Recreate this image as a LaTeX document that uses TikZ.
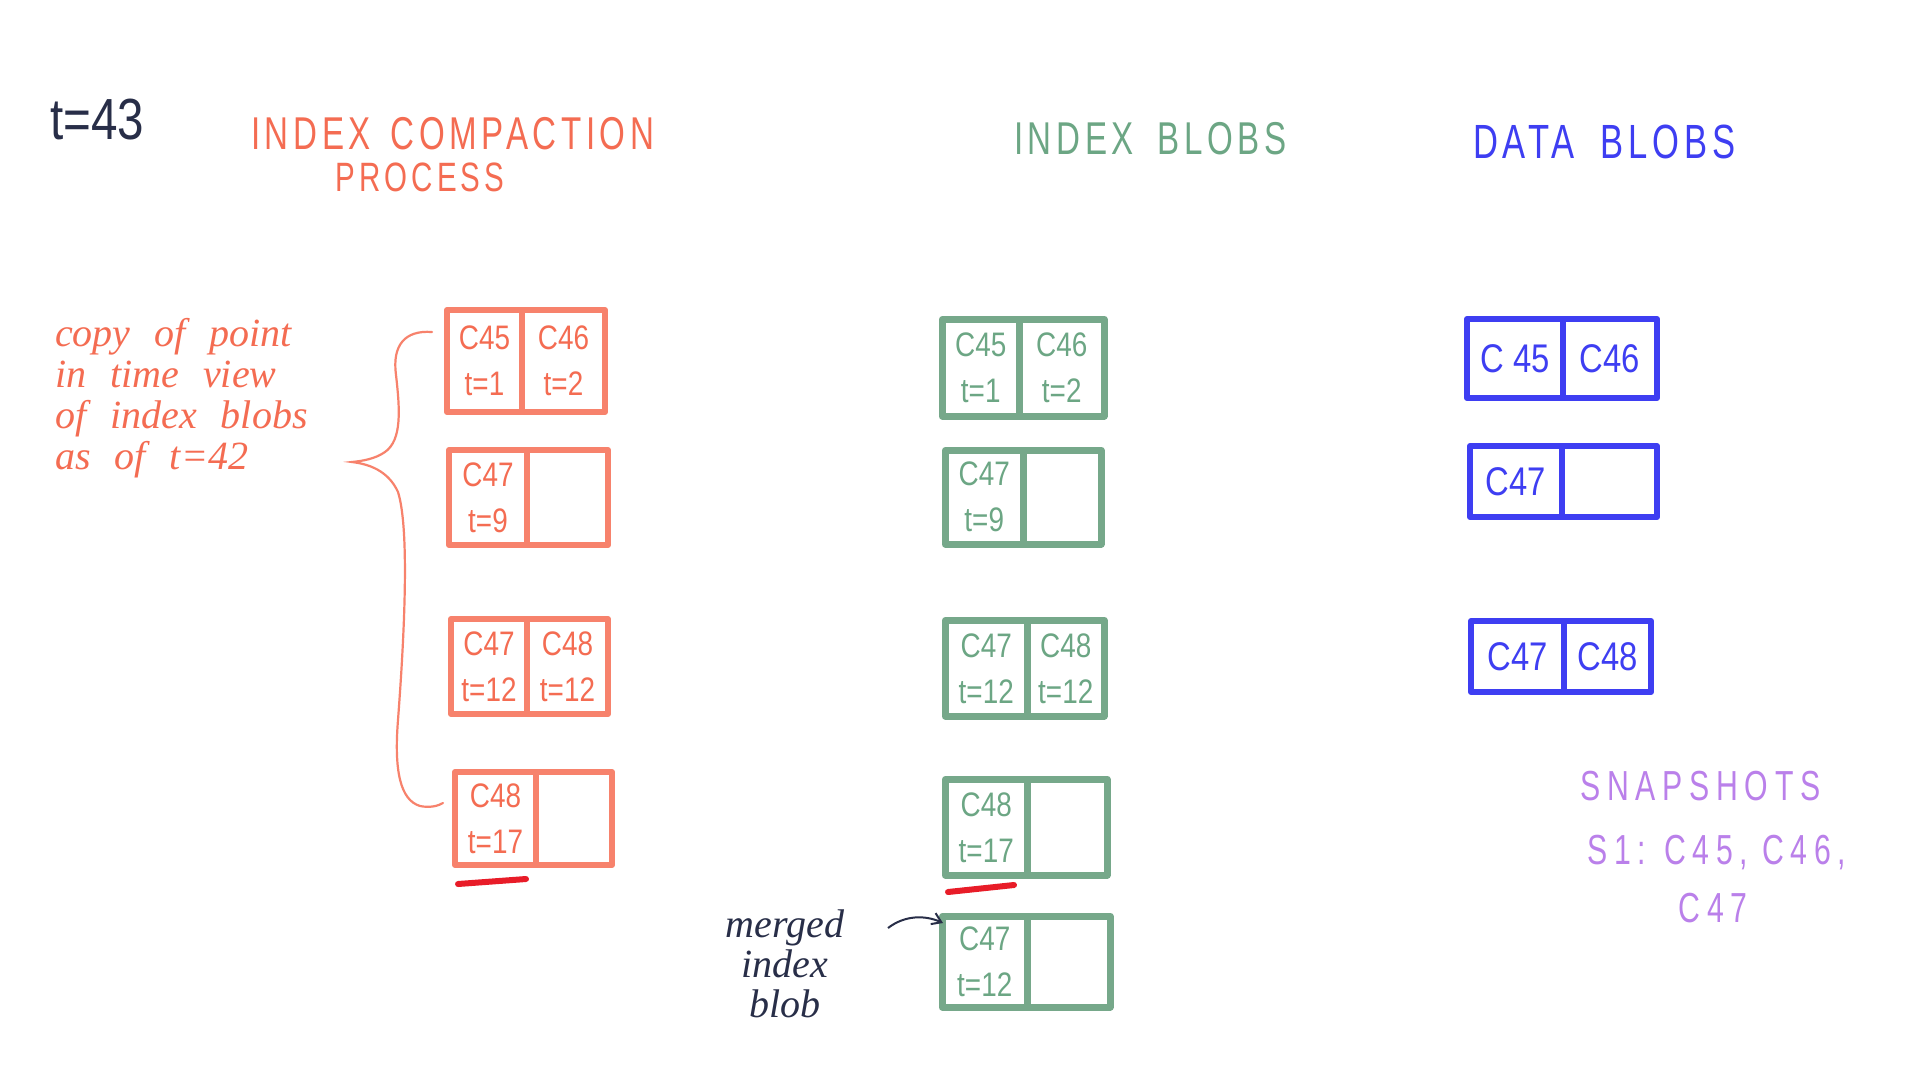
\documentclass[tikz,border=0pt]{standalone}
\usepackage{fontspec}
\setmainfont{Liberation Sans}
\newfontfamily\handfont[FakeStretch=0.82]{Liberation Sans}
\newfontfamily\capsfont[FakeStretch=0.72,LetterSpace=10]{Liberation Sans}
\newfontfamily\snapfont[FakeStretch=0.72,LetterSpace=16]{Liberation Sans}
\newfontfamily\cursivefont{Liberation Serif}
\usetikzlibrary{arrows.meta,calc}
\definecolor{corange}{RGB}{244,108,82}
\definecolor{cboxor}{RGB}{247,130,108}
\definecolor{cgreen}{RGB}{108,166,132}
\definecolor{cgreenbox}{RGB}{118,168,138}
\definecolor{cblue}{RGB}{62,62,242}
\definecolor{cpurple}{RGB}{186,128,234}
\definecolor{cnavy}{RGB}{40,46,72}
\definecolor{cred}{RGB}{232,28,40}
\tikzset{
  cell/.style={inner sep=0pt, align=center, line join=round, line cap=round},
  cellO/.style={cell, draw=cboxor, line width=6pt, text=corange,
    font=\handfont\fontsize{34}{46}\selectfont},
  cellG/.style={cell, draw=cgreenbox, line width=6.5pt, text=cgreen,
    font=\handfont\fontsize{34}{46}\selectfont},
  cellB/.style={cell, draw=cblue, line width=6pt, text=cblue,
    font=\handfont\fontsize{40}{46}\selectfont},
  header/.style={inner sep=0pt, font=\capsfont\fontsize{46}{50}\selectfont},
  snaptext/.style={inner sep=0pt, text=cpurple, font=\snapfont\fontsize{42}{46}\selectfont},
  scribble/.style={draw=cred, line width=6pt, line cap=round},
}
\newcommand\blobbox[9]{%
  \pgfmathsetmacro\bwl{#4-#3}%
  \pgfmathsetmacro\bwr{#5-#4}%
  \pgfmathsetmacro\bht{#7-#6}%
  \node[#2, minimum width=\bwl pt, minimum height=\bht pt, anchor=north west] (#1l) at (#3,#6) {#8};
  \node[#2, minimum width=\bwr pt, minimum height=\bht pt, anchor=north west] (#1r) at (#4,#6) {#9};
}
\begin{document}
\begin{tikzpicture}[x=1pt,y=-1pt]
\useasboundingbox (0,0) rectangle (1920,1080);
\fill[white] (0,0) rectangle (1920,1080);

% titles
\node[inner sep=0pt, text=cnavy, font=\handfont\fontsize{58}{60}\selectfont] (tnow) at (97,120) {t=43};
\node[header, text=corange, anchor=west] (hcomp) at (251,134) {INDEX\hspace{20pt}COMPACTION};
\node[header, text=corange, font=\capsfont\fontsize{41}{46}\selectfont] (hproc) at (420,177) {PROCESS};
\node[header, text=cgreen, anchor=west] (hindex) at (1014,139) {INDEX\hspace{24pt}BLOBS};
\node[header, text=cblue, anchor=west, font=\capsfont\fontsize{48}{50}\selectfont] (hdata) at (1473,142) {DATA\hspace{26pt}BLOBS};

% orange boxes
\blobbox{o1}{cellO}{444}{519}{602}{307}{409}{C45\\t=1}{C46\\t=2}
\blobbox{o2}{cellO}{446}{524}{605}{447}{542}{C47\\t=9}{}
\blobbox{o3}{cellO}{448}{524}{605}{616}{711}{C47\\t=12}{C48\\t=12}
\blobbox{o4}{cellO}{452}{533}{609}{769}{862}{C48\\t=17}{}

% green boxes
\blobbox{g1}{cellG}{939}{1016}{1101}{316}{413}{C45\\t=1}{C46\\t=2}
\blobbox{g2}{cellG}{942}{1020}{1098}{447}{541}{C47\\t=9}{}
\blobbox{g3}{cellG}{942}{1024}{1101}{617}{713}{C47\\t=12}{C48\\t=12}
\blobbox{g4}{cellG}{942}{1024}{1104}{776}{872}{C48\\t=17}{}
\blobbox{g5}{cellG}{939}{1024}{1107}{913}{1004}{C47\\t=12}{}

% blue boxes
\blobbox{b1}{cellB}{1464}{1560}{1654}{316}{395}{C 45}{C46}
\blobbox{b2}{cellB}{1467}{1559}{1654}{443}{514}{C47}{}
\blobbox{b3}{cellB}{1468}{1561}{1648}{618}{689}{C47}{C48}

% brace
\draw[cboxor, line width=2.2pt, line cap=round]
  (432,332) .. controls (405,330) and (392,345) .. (396,375)
  .. controls (400,410) and (402,440) .. (385,452)
  .. controls (375,459) and (362,461) .. (352,462)
  .. controls (368,464) and (388,470) .. (398,492)
  .. controls (410,530) and (404,640) .. (398,720)
  .. controls (394,770) and (400,800) .. (420,806)
  .. controls (430,808) and (438,806) .. (443,803);

% copy text
\node[inner sep=0pt, anchor=north west, align=left, text=corange,
  font=\cursivefont\itshape\fontsize{40}{41}\selectfont] (copytxt) at (55,318)
  {copy\hspace{14pt} of\hspace{14pt} point\\in\hspace{14pt} time\hspace{14pt} view\\of\hspace{14pt} index\hspace{14pt} blobs\\as\hspace{14pt} of\hspace{14pt} t=42};

% red scribbles
\coordinate (s1a) at (458,884);
\coordinate (s1b) at (526,879);
\draw[scribble] (s1a) -- (s1b);
\coordinate (s2a) at (948,892);
\coordinate (s2b) at (1014,885);
\draw[scribble] (s2a) -- (s2b);

% merged index blob
\node[inner sep=0pt, align=center, text=cnavy,
  font=\cursivefont\itshape\fontsize{40}{40}\selectfont] (merged) at (785,964)
  {merged\\index\\blob};
\coordinate (arrS) at (888,928);
\draw[cnavy, line width=2pt, -{Straight Barb[length=9pt,width=12pt]}]
  (arrS) .. controls (905,915) and (925,915) .. ($(g5l.north west)+(4,10)$);

% snapshots
\node[snaptext, anchor=west] (snap) at (1580,786) {SNAPSHOTS};
\node[snaptext, anchor=west] (s1) at (1587,853) {S1:\hspace{18pt}C45,\hspace{14pt}C46,};
\node[snaptext] (s1b) at (1713,908) {C47};
\end{tikzpicture}
\end{document}
